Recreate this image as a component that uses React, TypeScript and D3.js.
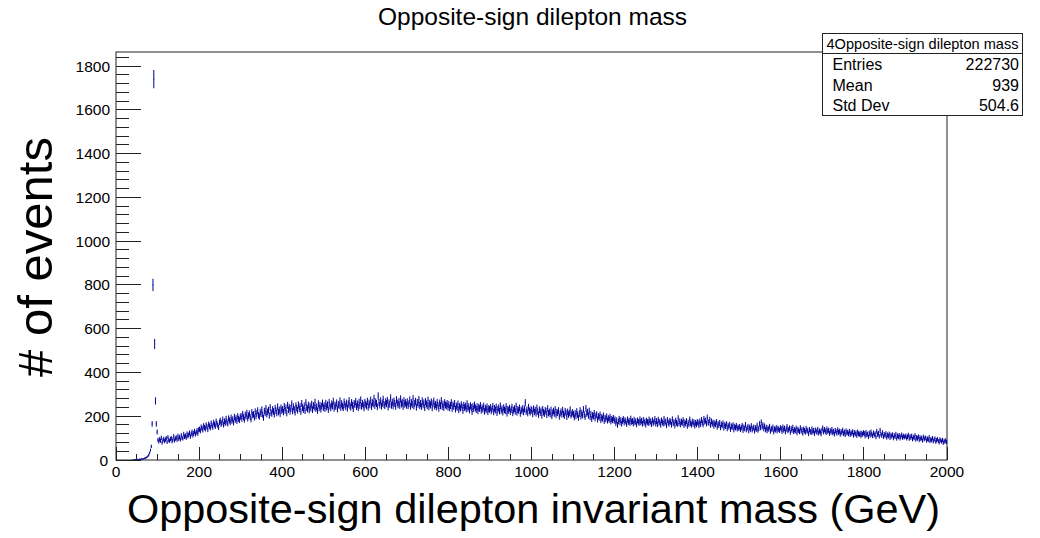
import React, { useEffect, useRef } from "react";
import * as d3 from "d3";

// 2 GeV wide bins
const binWidthGeV = 2;

// 0 - 100 GeV (Z peak region)
const lowMassCounts = [
  0, 0, 0, 0, 0, 0, 0, 0, 0, 0, 0, 0, 0, 0, 0, 0, 0, 0, 0, 0,
  1, 0, 1, 2, 1, 3, 2, 2, 4, 3, 5, 4, 6, 5, 8,
  9, 11, 14, 18, 24, 33, 45, 62,
  165, 800, 1740, 530, 270, 165, 128,
];

// 100 - 2000 GeV, one row of 50 bins per 100 GeV
const continuumCounts = [
  [92, 84, 95, 88, 101, 79, 90, 97, 86, 93, 99, 82, 104, 91, 87, 96, 100, 85, 94, 108, 89, 98, 103, 92, 110, 97, 105, 94, 113, 101, 99, 118, 106, 111, 102, 120, 109, 115, 124, 107, 119, 128, 113, 122, 131, 118, 126, 135, 121, 138],
  [141, 133, 150, 145, 137, 156, 148, 142, 160, 151, 139, 163, 155, 147, 168, 158, 150, 171, 162, 154, 176, 166, 158, 149, 172, 180, 164, 170, 185, 161, 177, 169, 188, 174, 166, 190, 181, 172, 194, 179, 186, 171, 197, 183, 191, 178, 200, 188, 182, 196],
  [201, 188, 210, 195, 184, 207, 199, 215, 190, 203, 212, 196, 186, 218, 205, 209, 194, 221, 200, 213, 226, 204, 198, 219, 211, 230, 207, 193, 224, 215, 236, 209, 220, 228, 203, 240, 217, 212, 231, 222, 208, 237, 225, 214, 243, 219, 229, 211, 238, 226],
  [232, 219, 245, 226, 238, 214, 250, 229, 241, 222, 236, 256, 224, 243, 231, 218, 248, 237, 227, 252, 234, 244, 221, 258, 239, 230, 247, 225, 262, 240, 233, 251, 228, 246, 237, 255, 230, 249, 241, 264, 235, 243, 226, 257, 238, 250, 232, 246, 260, 239],
  [248, 235, 259, 242, 252, 230, 263, 245, 238, 256, 247, 268, 236, 251, 244, 261, 233, 254, 249, 270, 240, 257, 246, 239, 265, 252, 243, 260, 237, 255, 271, 248, 241, 262, 250, 234, 258, 253, 267, 244, 256, 239, 264, 249, 274, 245, 259, 251, 238, 263],
  [255, 247, 268, 241, 260, 252, 273, 244, 262, 256, 281, 249, 265, 258, 243, 292, 262, 251, 270, 246, 259, 277, 253, 248, 266, 257, 272, 242, 261, 254, 283, 250, 264, 247, 269, 258, 245, 275, 260, 252, 267, 249, 279, 256, 263, 244, 271, 255, 262, 250],
  [266, 248, 257, 274, 245, 262, 253, 280, 247, 259, 268, 241, 263, 255, 276, 249, 258, 244, 270, 252, 261, 239, 267, 256, 248, 273, 243, 259, 251, 265, 238, 257, 269, 246, 254, 242, 263, 250, 236, 260, 248, 271, 244, 255, 239, 262, 251, 247, 258, 241],
  [254, 238, 249, 262, 235, 251, 244, 258, 232, 247, 240, 256, 229, 245, 237, 253, 242, 226, 250, 239, 246, 233, 257, 236, 243, 228, 248, 240, 221, 245, 234, 251, 238, 230, 244, 224, 241, 235, 249, 227, 239, 232, 246, 222, 237, 229, 243, 220, 235, 231],
  [240, 224, 233, 245, 219, 236, 228, 242, 216, 231, 238, 223, 247, 226, 234, 218, 239, 229, 225, 244, 213, 232, 227, 237, 220, 230, 241, 215, 228, 235, 222, 246, 217, 231, 226, 238, 212, 229, 224, 236, 219, 233, 262, 221, 230, 214, 241, 225, 218, 232],
  [226, 210, 234, 219, 228, 213, 238, 221, 207, 230, 216, 225, 203, 232, 218, 211, 227, 222, 206, 235, 214, 220, 209, 229, 201, 217, 224, 212, 231, 205, 219, 215, 226, 198, 213, 221, 208, 228, 210, 202, 223, 216, 197, 220, 207, 214, 230, 204, 211, 218],
  [209, 195, 214, 201, 222, 206, 193, 211, 226, 199, 215, 204, 231, 208, 197, 236, 212, 219, 203, 224, 196, 210, 187, 205, 199, 214, 190, 202, 208, 185, 200, 194, 207, 182, 196, 189, 203, 178, 193, 186, 199, 180, 191, 184, 197, 176, 188, 182, 192, 179],
  [186, 168, 181, 160, 176, 188, 172, 183, 165, 179, 187, 171, 182, 176, 164, 185, 173, 180, 168, 189, 174, 178, 166, 184, 171, 177, 162, 181, 175, 169, 186, 172, 179, 165, 183, 170, 176, 161, 180, 174, 168, 185, 171, 177, 163, 182, 169, 175, 187, 166],
  [178, 163, 184, 170, 175, 160, 181, 172, 166, 188, 169, 176, 158, 183, 171, 165, 179, 174, 161, 186, 168, 173, 157, 180, 170, 164, 191, 167, 177, 162, 175, 169, 182, 159, 172, 166, 178, 155, 171, 163, 185, 168, 160, 176, 165, 173, 156, 170, 162, 174],
  [169, 158, 176, 164, 183, 171, 162, 188, 175, 180, 166, 194, 173, 169, 184, 160, 177, 165, 171, 155, 168, 162, 174, 151, 166, 159, 170, 148, 163, 157, 168, 146, 160, 154, 165, 143, 158, 151, 162, 140, 155, 149, 160, 138, 153, 147, 157, 142, 150, 145],
  [152, 139, 148, 157, 135, 150, 143, 161, 138, 146, 153, 133, 149, 141, 156, 137, 145, 150, 132, 147, 140, 158, 136, 144, 165, 148, 172, 151, 160, 143, 155, 138, 149, 134, 146, 141, 153, 131, 144, 139, 150, 128, 142, 137, 148, 133, 145, 140, 135, 147],
  [143, 131, 150, 137, 145, 128, 141, 152, 134, 139, 146, 126, 143, 136, 149, 130, 138, 133, 145, 124, 140, 135, 129, 147, 132, 138, 122, 141, 134, 127, 144, 131, 136, 120, 139, 130, 125, 142, 128, 135, 121, 137, 132, 126, 140, 123, 133, 129, 119, 136],
  [146, 128, 139, 133, 125, 142, 130, 136, 121, 134, 127, 140, 124, 131, 118, 135, 129, 122, 138, 126, 132, 117, 130, 124, 136, 120, 128, 115, 133, 123, 127, 119, 131, 116, 125, 121, 129, 113, 126, 118, 124, 111, 128, 120, 116, 123, 110, 122, 117, 125],
  [121, 109, 126, 115, 119, 106, 123, 113, 128, 117, 110, 124, 114, 120, 105, 131, 116, 122, 108, 135, 118, 112, 125, 106, 117, 111, 121, 103, 115, 109, 119, 101, 114, 108, 116, 100, 112, 106, 118, 98, 111, 105, 113, 99, 108, 115, 102, 110, 104, 107],
  [111, 99, 106, 114, 97, 108, 102, 110, 95, 105, 100, 112, 93, 104, 98, 107, 91, 103, 96, 101, 89, 106, 94, 99, 102, 88, 97, 92, 104, 86, 95, 90, 100, 85, 93, 98, 83, 91, 96, 87, 80, 94, 89, 84, 92, 78, 88, 83, 90, 82],
];

const xTicks = [0, 200, 400, 600, 800, 1000, 1200, 1400, 1600, 1800, 2000];
const yTicks = [0, 200, 400, 600, 800, 1000, 1200, 1400, 1600, 1800];

const titleText = "Opposite-sign dilepton mass";
const xLabel = "Opposite-sign dilepton invariant mass (GeV)";
const yLabel = "# of events";
const statsTitle = "4Opposite-sign dilepton mass";
const statsNames = ["Entries", "Mean", "Std Dev"];
const statsValues = ["222730", "939", "504.6"];

function App() {
  const svgRef = useRef(null);
  const svgWidth = 1040;
  const svgHeight = 538;

  useEffect(() => {
    const svg = d3.select(svgRef.current);
    svg.selectAll("*").remove();
    const font = "'Liberation Sans', Arial, Helvetica, sans-serif";
    const frame = { left: 116, right: 947, top: 52, bottom: 460 };

    const x = d3.scaleLinear().domain([0, 2000]).range([frame.left, frame.right]);
    const y = d3.scaleLinear().domain([0, 1864]).range([frame.bottom, frame.top]);

    // collect bins
    const bins: { lo: number; n: number }[] = [];
    lowMassCounts.forEach((n, j) => bins.push({ lo: j * binWidthGeV, n }));
    continuumCounts.forEach((row, r) =>
      row.forEach((n, j) => bins.push({ lo: 100 + 100 * r + j * binWidthGeV, n }))
    );

    // frame
    svg
      .append("rect")
      .attr("x", frame.left)
      .attr("y", frame.top)
      .attr("width", frame.right - frame.left)
      .attr("height", frame.bottom - frame.top)
      .attr("fill", "none")
      .attr("stroke", "#222")
      .attr("stroke-width", 1);

    // error bars (ROOT "E" style)
    const p = d3.path();
    bins
      .filter((b) => b.n > 0)
      .forEach((b) => {
        const cx = x(b.lo + binWidthGeV / 2);
        const err = Math.sqrt(b.n);
        p.moveTo(cx, y(b.n - err));
        p.lineTo(cx, y(b.n + err));
        p.moveTo(x(b.lo), y(b.n));
        p.lineTo(x(b.lo + binWidthGeV), y(b.n));
      });
    svg
      .append("path")
      .attr("d", p.toString())
      .attr("fill", "none")
      .attr("stroke", "#000099")
      .attr("stroke-width", 1);

    // y ticks: major 200, minor 40
    const ticks = svg.append("g").attr("stroke", "#222").attr("shape-rendering", "crispEdges");
    d3.range(0, 1864, 40).forEach((v) => {
      const len = v % 200 === 0 ? 25 : 13;
      ticks
        .append("line")
        .attr("x1", frame.left)
        .attr("x2", frame.left + len)
        .attr("y1", y(v))
        .attr("y2", y(v));
    });
    // x ticks: major 200, minor 50
    d3.range(0, 2001, 50).forEach((v) => {
      const len = v % 200 === 0 ? 13 : 6.5;
      ticks
        .append("line")
        .attr("x1", x(v))
        .attr("x2", x(v))
        .attr("y1", frame.bottom)
        .attr("y2", frame.bottom - len);
    });

    svg
      .append("g")
      .selectAll("text")
      .data(yTicks)
      .enter()
      .append("text")
      .attr("x", (d) => (d === 0 ? 108 : 110))
      .attr("y", (d) => y(d) + 5.5)
      .attr("text-anchor", "end")
      .style("font-family", font)
      .style("font-size", "15.5px")
      .text((d) => d);

    svg
      .append("g")
      .selectAll("text")
      .data(xTicks)
      .enter()
      .append("text")
      .attr("x", (d) => x(d))
      .attr("y", 477)
      .attr("text-anchor", "middle")
      .style("font-family", font)
      .style("font-size", "15.5px")
      .text((d) => d);

    // title and axis labels
    svg
      .append("text")
      .attr("x", 532.5)
      .attr("y", 25)
      .attr("text-anchor", "middle")
      .attr("textLength", 309)
      .attr("lengthAdjust", "spacingAndGlyphs")
      .style("font-family", font)
      .style("font-size", "24.5px")
      .text(titleText);

    svg
      .append("text")
      .attr("x", 533.5)
      .attr("y", 523)
      .attr("text-anchor", "middle")
      .attr("textLength", 813)
      .attr("lengthAdjust", "spacingAndGlyphs")
      .style("font-family", font)
      .style("font-size", "40px")
      .text(xLabel);

    svg
      .append("text")
      .attr("transform", "translate(52,257) rotate(-90)")
      .attr("text-anchor", "middle")
      .attr("textLength", 240)
      .attr("lengthAdjust", "spacingAndGlyphs")
      .style("font-family", font)
      .style("font-size", "48px")
      .text(yLabel);

    // stats box
    const box = { x: 822.5, y: 33.5, w: 200, h: 82, header: 20 };
    const stats = svg.append("g");
    stats
      .append("rect")
      .attr("x", box.x)
      .attr("y", box.y)
      .attr("width", box.w)
      .attr("height", box.h)
      .attr("fill", "white")
      .attr("stroke", "#222");
    stats
      .append("line")
      .attr("x1", box.x)
      .attr("x2", box.x + box.w)
      .attr("y1", box.y + box.header)
      .attr("y2", box.y + box.header)
      .attr("stroke", "#222");
    stats
      .append("text")
      .attr("x", box.x + box.w / 2)
      .attr("y", 48.5)
      .attr("text-anchor", "middle")
      .attr("textLength", 192)
      .attr("lengthAdjust", "spacingAndGlyphs")
      .style("font-family", font)
      .style("font-size", "14.5px")
      .text(statsTitle);
    statsNames.forEach((name, i) => {
      const by = 70 + i * 20.5;
      stats
        .append("text")
        .attr("x", 832.5)
        .attr("y", by)
        .style("font-family", font)
        .style("font-size", "16px")
        .text(name);
      stats
        .append("text")
        .attr("x", 1019)
        .attr("y", by)
        .attr("text-anchor", "end")
        .style("font-family", font)
        .style("font-size", "16px")
        .text(statsValues[i]);
    });
  }, []);

  return (
    <div>
      <svg
        ref={svgRef}
        width={svgWidth}
        height={svgHeight}
        style={{ position: "absolute", left: 0, top: 0, background: "white" }}
      ></svg>
    </div>
  );
}

export default App;
